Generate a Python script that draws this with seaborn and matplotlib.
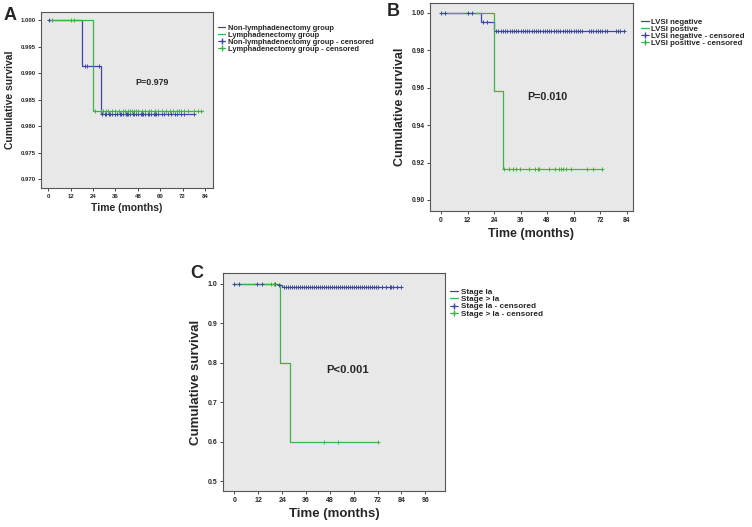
import numpy as np
import matplotlib
matplotlib.use("Agg")
import matplotlib.pyplot as plt
import seaborn as sns
from matplotlib.lines import Line2D

# ---- panel A: lymphadenectomy ----
a_non_t = [0, 18, 28, 78]
a_non_s = [1.000, 0.9913, 0.9823, 0.9823]
a_non_cens = [0.3, 19.5, 21, 27, 29, 30.5, 31, 32.5, 33, 34, 35.5, 36, 37, 38.5, 39, 40,
              41.5, 42, 43, 44, 45.5, 46, 47, 48, 49.5, 50, 51, 52, 53.5, 54, 55, 56.5,
              57, 58, 59, 61, 62, 64, 66, 68, 69, 71, 73, 78]
a_lym_t = [0, 24, 83]
a_lym_s = [1.000, 0.9829, 0.9829]
a_lym_cens = [1.8, 12, 13.8, 25, 28, 29.5, 31, 32, 34, 36, 38, 40, 41, 43, 44, 45, 46,
              47, 48, 50, 52, 54, 55, 57, 59, 61, 63, 65, 67, 69, 70, 71, 73, 75, 78,
              80, 82]

# ---- panel B: LVSI ----
b_neg_t = [0, 18, 24, 83]
b_neg_s = [1.00, 0.9953, 0.9905, 0.9905]
b_neg_cens = [0, 1.8, 12, 13.8, 19, 21, 25, 26, 27, 28, 29, 30, 31, 32, 33, 34, 35, 36,
              37, 38, 39, 40, 41, 42, 43, 44, 45, 46, 47, 48, 49, 50, 51, 52, 53, 54,
              55, 56, 57, 58, 59, 60, 61, 62, 63, 64, 67, 68, 69, 70, 71, 72, 73, 74,
              75, 79, 80, 81, 83]
b_pos_t = [0, 24, 28, 73]
b_pos_s = [1.00, 0.9583, 0.9167, 0.9167]
b_pos_cens = [28.6, 30.6, 32.4, 33.9, 35.7, 40, 42.7, 43.7, 44.5, 48.7, 51.7, 53.2,
              54.3, 55.3, 56.6, 58.8, 65.9, 68.6, 73]

# ---- panel C: stage ----
c_ia_t = [0, 22, 24, 84]
c_ia_s = [1.0, 0.9957, 0.9914, 0.9914]
c_ia_cens = [0, 2.2, 11.6, 13.8, 20.6, 22.5, 25, 26, 27, 28, 29, 30, 31, 32, 33, 34, 35,
             36, 37, 38, 39, 40, 41, 42, 43, 44, 45, 46, 47, 48, 49, 50, 51, 52, 53, 54,
             55, 56, 57, 58, 59, 60, 61, 62, 63, 64, 65, 66, 67, 68, 69, 70, 71, 72,
             74, 76, 78, 79, 80, 82, 84]
c_gt_t = [0, 23, 28, 72]
c_gt_s = [1.0, 0.8, 0.6, 0.6]
c_gt_cens = [18.4, 20.0, 45, 52, 72]

BLUE = "#3c46a6"
GREEN = "#3cb34a"
BG = "#e8e8e8"

sns.set_style("white")
plt.rcParams["font.family"] = ["Liberation Sans", "DejaVu Sans"]


def step_value(times, surv, t):
    idx = np.searchsorted(times, t, side="right") - 1
    return np.array(surv)[idx]


def km_panel(ax, t1, s1, c1, t2, s2, c2, labels, pval, ppos, legpos, xmax_tick,
             yticks, yfmt, ylim, xlim, tick_fs, lab_fs, leg_fs):
    ax.set_facecolor(BG)
    sns.lineplot(x=t1, y=s1, ax=ax, color=BLUE, lw=0.9, drawstyle="steps-post")
    sns.lineplot(x=t2, y=s2, ax=ax, color=GREEN, lw=0.9, drawstyle="steps-post")
    sns.scatterplot(x=c1, y=step_value(t1, s1, c1), ax=ax, marker="+", color=BLUE,
                    s=12, linewidth=0.7, zorder=3)
    sns.scatterplot(x=c2, y=step_value(t2, s2, c2), ax=ax, marker="+", color=GREEN,
                    s=12, linewidth=0.7, zorder=3)
    ax.set_xlim(*xlim)
    ax.set_ylim(*ylim)
    ax.set_xticks(np.arange(0, xmax_tick + 1, 12))
    ax.set_yticks(yticks)
    ax.set_yticklabels([yfmt % v for v in yticks])
    ax.tick_params(axis="both", labelsize=tick_fs, length=2.5, width=0.6,
                   direction="out", left=True, bottom=True, pad=1.5)
    for lab in ax.get_xticklabels() + ax.get_yticklabels():
        lab.set_fontweight("bold")
    for sp in ax.spines.values():
        sp.set_color("#555555")
        sp.set_linewidth(0.8)
    ax.set_xlabel("Time (months)", fontsize=lab_fs, fontweight="bold", labelpad=3)
    ax.set_ylabel("Cumulative survival", fontsize=lab_fs, fontweight="bold", labelpad=4)
    ax.text(ppos[0], ppos[1], pval, transform=ax.transAxes, ha="center", va="center",
            fontsize=lab_fs * 0.85, fontweight="bold")
    handles = [
        Line2D([], [], color=BLUE, lw=0.9, drawstyle="steps-post"),
        Line2D([], [], color=GREEN, lw=0.9, drawstyle="steps-post"),
        Line2D([], [], color=BLUE, lw=0.7, marker="+", markersize=5),
        Line2D([], [], color=GREEN, lw=0.7, marker="+", markersize=5),
    ]
    ax.legend(handles, labels, loc="upper left", bbox_to_anchor=legpos,
              bbox_transform=ax.figure.transFigure, frameon=False,
              prop={"size": leg_fs, "weight": "bold"}, handlelength=1.0,
              handletextpad=0.3, labelspacing=-0.05, borderpad=0)


fig = plt.figure(figsize=(7.52, 5.27), dpi=100)

axA = fig.add_axes([41 / 752, 1 - 188 / 527, 172 / 752, 176 / 527])
km_panel(axA, a_non_t, a_non_s, a_non_cens, a_lym_t, a_lym_s, a_lym_cens,
         ["Non-lymphadenectomy group", "Lymphadenectomy group",
          "Non-lymphadenectomy group - censored", "Lymphadenectomy group - censored"],
         "P=0.979", (0.645, 0.60), (214 / 752, 1 - 21 / 527), 84,
         [0.970, 0.975, 0.980, 0.985, 0.990, 0.995, 1.000], "%.3f",
         (0.9683, 1.0016), (-3.9, 88.3), 4.3, 7.5, 5.4)

axB = fig.add_axes([430 / 752, 1 - 211 / 527, 203 / 752, 208 / 527])
km_panel(axB, b_neg_t, b_neg_s, b_neg_cens, b_pos_t, b_pos_s, b_pos_cens,
         ["LVSI negative", "LVSI postive", "LVSI negative - censored",
          "LVSI positive - censored"],
         "P=0.010", (0.58, 0.55), (637 / 752, 1 - 14 / 527), 84,
         [0.90, 0.92, 0.94, 0.96, 0.98, 1.00], "%.2f",
         (0.8941, 1.0052), (-5.0, 86.9), 4.8, 9.0, 5.7)

axC = fig.add_axes([223 / 752, 1 - 491 / 527, 222 / 752, 218 / 527])
km_panel(axC, c_ia_t, c_ia_s, c_ia_cens, c_gt_t, c_gt_s, c_gt_cens,
         ["Stage Ia", "Stage > Ia", "Stage Ia - censored", "Stage > Ia - censored"],
         "P<0.001", (0.56, 0.555), (446 / 752, 1 - 284 / 527), 96,
         [0.5, 0.6, 0.7, 0.8, 0.9, 1.0], "%.1f",
         (0.4747, 1.0269), (-5.7, 105.9), 5.0, 9.5, 5.9)

fig.text(4 / 752, 1 - 15 / 527, "A", fontsize=13, fontweight="bold", va="center")
fig.text(387 / 752, 1 - 11 / 527, "B", fontsize=13, fontweight="bold", va="center")
fig.text(190 / 752, 1 - 274 / 527, "C", fontsize=13, fontweight="bold", va="center")

fig.savefig("out.png", dpi=100, facecolor="white")
